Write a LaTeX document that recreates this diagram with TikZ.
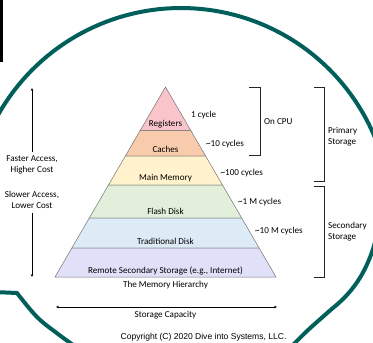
\documentclass[tikz,border=0pt]{standalone}
\usepackage{fontspec}
\setmainfont{Carlito}
\newfontfamily\arialf{Liberation Sans}
\usetikzlibrary{calc,arrows.meta}
\definecolor{bubbleteal}{HTML}{005F5A}
\definecolor{regc}{HTML}{F9C5CA}
\definecolor{cachec}{HTML}{F8CBAD}
\definecolor{mainc}{HTML}{FFF2CC}
\definecolor{flashc}{HTML}{E2EFDA}
\definecolor{tradc}{HTML}{DDEBF7}
\definecolor{remc}{HTML}{E0E0F8}
\begin{document}
\begin{tikzpicture}[x=1pt,y=-1pt,
  every node/.style={inner sep=0pt, font=\fontsize{9.1}{11}\selectfont},
  layer/.style={draw=black!55, line width=0.5pt},
  brk/.style={draw=black!85, line width=1pt},
  arr/.style={-{Stealth[length=3pt,width=2.6pt]}, line width=0.7pt},
  bubble/.style={draw=bubbleteal, line width=4pt, line join=round}]
\useasboundingbox (0,0) rectangle (373,343);
% bubble
\draw[bubble] plot[domain=156:8, samples=80, variable=\a] ({181+210*cos(\a)},{218-210*sin(\a)});
\draw[bubble] plot[smooth, tension=0.6] coordinates {(382,200) (378,228) (372,252) (361,276) (346,296) (326,314) (307,331) (291,347)};
\draw[bubble] (-6,292) -- plot[smooth, tension=0.6] coordinates {(17,293) (37,317) (58,334) (76,347)};
\draw[line width=2.5pt] (1.5,-2) -- (1.5,62);
% pyramid
\coordinate (A) at (165.5,87);
\coordinate (BL) at (55,277);
\coordinate (BR) at (276,277);
\foreach \i/\t in {1/0.23,2/0.3632,3/0.5158,4/0.6895,5/0.8474}{
  \coordinate (L\i) at ($(A)!\t!(BL)$);
  \coordinate (R\i) at ($(A)!\t!(BR)$);
}
\filldraw[layer, fill=regc] (A) -- (L1) -- (R1) -- cycle;
\filldraw[layer, fill=cachec] (L1) -- (L2) -- (R2) -- (R1) -- cycle;
\filldraw[layer, fill=mainc] (L2) -- (L3) -- (R3) -- (R2) -- cycle;
\filldraw[layer, fill=flashc] (L3) -- (L4) -- (R4) -- (R3) -- cycle;
\filldraw[layer, fill=tradc] (L4) -- (L5) -- (R5) -- (R4) -- cycle;
\filldraw[layer, fill=remc] (L5) -- (BL) -- (BR) -- (R5) -- cycle;
\node (reg) at (165.5,124) {Registers};
\node (cache) at (165.5,149.5) {Caches};
\node (mm) at (165.5,178.5) {Main Memory};
\node (flash) at (165.5,211) {Flash Disk};
\node (trad) at (165.5,241.5) {Traditional Disk};
\node (remote) at (165.5,270.5) {Remote Secondary Storage (e.g., Internet)};
\node (title) at (165.5,285.5) {The Memory Hierarchy};
% cycles
\node[anchor=west] (c1) at (191,115.5) {1 cycle};
\node[anchor=west] (c2) at (206,144) {\textasciitilde 10 cycles};
\node[anchor=west] (c3) at (220.5,173.5) {\textasciitilde 100 cycles};
\node[anchor=west] (c4) at (238,202.5) {\textasciitilde 1 M cycles};
\node[anchor=west] (c5) at (255,231.5) {\textasciitilde 10 M cycles};
% brackets
\coordinate (cpuT) at (249,87);
\coordinate (cpuB) at (260,155);
\coordinate (cpuE) at (249,155);
\draw[brk] (cpuT) -| (cpuB) -- (cpuE);
\node[anchor=west] (oncpu) at (264,121.5) {On CPU};
\coordinate (priT) at (314,87);
\coordinate (priB) at (324,181);
\coordinate (priE) at (314,181);
\draw[brk] (priT) -| (priB) -- (priE);
\node[anchor=west, align=left] (prim) at (328,136.5) {Primary\\Storage};
\coordinate (secT) at (314,186);
\coordinate (secB) at (324,277);
\coordinate (secE) at (314,277);
\draw[brk] (secT) -| (secB) -- (secE);
\node[anchor=west, align=left] (seco) at (328,231.5) {Secondary\\Storage};
% left arrows
\node[align=center] (fast) at (32,164.5) {Faster Access,\\Higher Cost};
\node[align=center] (slow) at (32,199.5) {Slower Access,\\Lower Cost};
\coordinate (upB) at (32,152);
\coordinate (upT) at (32,88);
\coordinate (dnT) at (32,213);
\coordinate (dnB) at (32,277);
\draw[arr] (upB) -- (upT);
\draw[arr] (dnT) -- (dnB);
% capacity
\coordinate (capL) at (56,307);
\coordinate (capR) at (277,307);
\draw[arr, {Stealth[length=3pt,width=2.6pt]}-{Stealth[length=3pt,width=2.6pt]}] (capL) -- (capR);
\node (cap) at (165.5,315.5) {Storage Capacity};
\node[font=\arialf\fontsize{8.55}{10}\selectfont] (copy) at (203.5,337) {Copyright (C) 2020 Dive into Systems, LLC.};
\end{tikzpicture}
\end{document}
